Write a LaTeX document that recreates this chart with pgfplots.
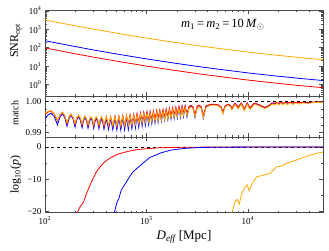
\documentclass[border=0pt]{standalone}
\usepackage{fontspec}
\setmainfont{Liberation Serif}
\usepackage{pgfplots}
\pgfplotsset{compat=1.18}
\usepackage{pgfplotstable}
\definecolor{myorange}{RGB}{255,168,0}
\definecolor{framegray}{RGB}{75,75,75}

% x = log10(D_eff / Mpc)
\pgfplotstableread{
x o b r
2.00 3236 240 98
2.25 1750 130 52.8
2.50 975 72 29.4
2.75 562 41.7 17.0
3.00 335 24.8 10.1
3.25 206 15.3 6.2
3.50 131 9.7 3.95
3.75 86 6.4 2.6
4.00 58 4.3 1.76
4.25 41 3.03 1.24
4.50 29.6 2.19 0.89
4.739 22.4 1.66 0.68
}\snrtable

\pgfplotstableread{
x r b o
2.000 .9958 .9945 .9962
2.030 .9966 .9956 .9968
2.059 .9969 .9962 .9970
2.091 .9959 .9951 .9961
2.123 .9937 .9925 .9940
2.148 .9957 .9950 .9957
2.172 .9965 .9960 .9964
2.195 .9954 .9948 .9954
2.217 .9928 .9920 .9932
2.237 .9950 .9945 .9950
2.256 .9959 .9955 .9958
2.276 .9949 .9944 .9949
2.296 .9925 .9917 .9929
2.313 .9946 .9941 .9947
2.330 .9955 .9951 .9955
2.348 .9945 .9940 .9947
2.365 .9923 .9915 .9927
2.380 .9943 .9938 .9944
2.394 .9952 .9948 .9952
2.409 .9943 .9938 .9944
2.424 .9922 .9914 .9926
2.439 .9942 .9936 .9943
2.453 .9950 .9946 .9950
2.467 .9941 .9936 .9943
2.480 .9921 .9913 .9925
2.493 .9941 .9935 .9943
2.505 .9950 .9945 .9950
2.519 .9941 .9935 .9942
2.532 .9920 .9912 .9924
2.545 .9941 .9934 .9942
2.557 .9950 .9944 .9950
2.569 .9941 .9934 .9942
2.581 .9920 .9911 .9924
2.604 .9951 .9945 .9951
2.626 .9920 .9910 .9923
2.647 .9951 .9946 .9951
2.668 .9921 .9909 .9922
2.689 .9952 .9947 .9951
2.708 .9921 .9908 .9921
2.728 .9953 .9948 .9952
2.747 .9922 .9908 .9921
2.766 .9954 .9949 .9952
2.784 .9923 .9909 .9922
2.803 .9955 .9950 .9953
2.821 .9925 .9910 .9923
2.838 .9957 .9952 .9954
2.856 .9927 .9912 .9924
2.874 .9959 .9954 .9955
2.891 .9930 .9915 .9926
2.907 .9961 .9956 .9956
2.924 .9932 .9917 .9928
2.941 .9963 .9958 .9958
2.957 .9935 .9920 .9930
2.973 .9965 .9960 .9960
2.989 .9938 .9923 .9933
3.005 .9967 .9962 .9961
3.021 .9939 .9925 .9934
3.036 .9968 .9963 .9962
3.052 .9941 .9928 .9935
3.068 .9969 .9964 .9963
3.084 .9943 .9931 .9936
3.100 .9971 .9966 .9964
3.115 .9945 .9933 .9937
3.131 .9972 .9967 .9966
3.147 .9947 .9936 .9939
3.163 .9974 .9969 .9967
3.178 .9949 .9939 .9941
3.194 .9976 .9971 .9969
3.210 .9951 .9941 .9943
3.226 .9978 .9973 .9971
3.241 .9954 .9943 .9946
3.257 .9980 .9975 .9973
3.273 .9956 .9945 .9948
3.289 .9982 .9977 .9975
3.304 .9958 .9947 .9951
3.320 .9984 .9980 .9977
3.335 .9961 .9949 .9953
3.350 .9985 .9982 .9979
3.364 .9963 .9951 .9955
3.381 .9986 .9983 .9980
3.399 .9960 .9950 .9953
3.419 .9984 .9981 .9978
3.438 .9987 .9985 .9982
3.458 .9983 .9980 .9977
3.478 .9958 .9948 .9950
3.498 .9984 .9981 .9978
3.517 .9988 .9986 .9983
3.540 .9983 .9980 .9977
3.560 .9955 .9946 .9948
3.586 .9985 .9983 .9980
3.626 .9990 .9989 .9987
3.665 .9991 .9990 .9988
3.704 .9989 .9988 .9986
3.734 .9983 .9981 .9979
3.754 .9966 .9962 .9960
3.773 .9985 .9983 .9981
3.803 .9991 .9990 .9988
3.828 .9987 .9986 .9983
3.842 .9977 .9975 .9972
3.872 .9994 .9993 .9990
3.904 .9982 .9980 .9976
3.934 .9995 .9994 .9991
3.964 .9976 .9974 .9970
3.992 .9995 .9994 .9991
4.020 .9979 .9977 .9973
4.059 .9994 .9993 .9990
4.099 .9991 .9990 .9987
4.128 .9986 .9985 .9982
4.167 .9981 .9980 .9977
4.207 .9987 .9986 .9983
4.236 .9995 .9994 .9991
4.266 .9994 .9993 .9988
4.286 .9997 .9996 .9995
4.305 .9994 .9993 .9988
4.325 .9997 .9996 .9995
4.345 .9994 .9993 .9989
4.364 .9997 .9996 .9995
4.389 .9995 .9994 .9989
4.414 .9997 .9996 .9995
4.443 .9995 .9994 .9990
4.473 .9997 .9996 .9995
4.502 .9996 .9995 .9991
4.542 .9997 .9997 .9995
4.591 .9997 .9996 .9993
4.640 .9998 .9997 .9996
4.690 .9998 .9997 .9996
4.739 .9998 .9998 .9997
}\matchtable

\pgfplotstableread{
x y
2.312 -21.0
2.318 -20.3
2.345 -18.5
2.377 -17.2
2.404 -14.8
2.443 -11.8
2.473 -9.8
2.509 -7.5
2.542 -6.2
2.574 -5.0
2.640 -3.4
2.719 -2.2
2.805 -1.45
2.887 -0.9
2.965 -0.6
3.133 -0.22
3.330 -0.08
3.626 -0.02
4.020 -0.005
4.739 0
}\redp

\pgfplotstableread{
x y
2.678 -21.0
2.683 -20.3
2.706 -17.4
2.729 -15.8
2.749 -13.5
2.771 -12.3
2.808 -10.5
2.837 -9.0
2.870 -7.6
2.906 -6.6
2.936 -5.8
2.968 -4.9
3.034 -3.2
3.100 -2.4
3.133 -1.9
3.232 -1.0
3.360 -0.45
3.527 -0.15
3.724 -0.05
4.120 -0.01
4.739 0
}\bluep

\pgfplotstableread{
x y
3.833 -21.0
3.839 -20.5
3.872 -16.9
3.895 -16.2
3.914 -17.7
3.938 -14.3
3.970 -12.3
3.993 -11.7
4.010 -13.5
4.052 -10.7
4.086 -9.2
4.151 -8.7
4.217 -8.2
4.283 -6.1
4.332 -5.9
4.381 -5.0
4.446 -4.4
4.512 -3.6
4.591 -2.7
4.677 -1.95
4.739 -1.6
}\orangep

\pgfplotsset{
  panel/.style={
    scale only axis, width=278pt,
    xmin=2, xmax=4.739,
    axis line style={framegray, line width=0.6pt},
    every tick/.style={framegray, line width=0.5pt},
    tick align=inside,
    major tick length=4pt, minor tick length=2pt,
    xtick={2,3,4},
    minor xtick={2.301,2.477,2.602,2.699,2.778,2.845,2.903,2.954,3.301,3.477,3.602,3.699,3.778,3.845,3.903,3.954,4.301,4.477,4.602,4.699},
    xticklabels={},
    tick label style={font=\fontsize{9}{10}\selectfont},
    label style={font=\fontsize{12}{13}\selectfont},
  },
}

\begin{document}
\begin{tikzpicture}
\path[use as bounding box] (0,0) rectangle (329pt,251pt);

% top panel: SNR
\begin{axis}[panel, at={(45pt,155pt)}, anchor=south west, height=86pt,
  ymode=log, ymin=0.24, ymax=11200,
  ytick={1,10,100,1000,10000},
  yticklabels={10\textsuperscript{0},10\textsuperscript{1},10\textsuperscript{2},10\textsuperscript{3},10\textsuperscript{4}},
  minor ytick={0.3,0.4,0.5,0.6,0.7,0.8,0.9,2,3,4,5,6,7,8,9,20,30,40,50,60,70,80,90,200,300,400,500,600,700,800,900,2000,3000,4000,5000,6000,7000,8000,9000},
  ylabel={SNR\textsubscript{opt}},
  ylabel style={at={(axis description cs:-0.105,0.64)}, anchor=center},
]
\addplot[myorange, line width=0.8pt] table[x=x, y=o] {\snrtable};
\addplot[blue, line width=0.8pt] table[x=x, y=b] {\snrtable};
\addplot[red, line width=0.8pt] table[x=x, y=r] {\snrtable};
\node[font=\fontsize{12.5}{14}\selectfont] at (rel axis cs:0.64,0.826)
  {\textit{m}\textsubscript{1}\,=\,\textit{m}\textsubscript{2}\,=\,10\,\textit{M}\textsubscript{$\odot$}};
\end{axis}

% middle panel: match
\begin{axis}[panel, at={(45pt,114pt)}, anchor=south west, height=41pt,
  ymin=0.9886, ymax=1.0017,
  ytick={0.99,1.00}, yticklabels={0.99,1.00},
  minor ytick={0.9925,0.995,0.9975},
  ylabel={match},
  ylabel style={at={(axis description cs:-0.108,0.58)}, anchor=center, font=\fontsize{10}{11}\selectfont},
]
\addplot[black, dashed, line width=0.6pt] coordinates {(2,1) (4.739,1)};
\addplot[blue, line width=0.8pt] table[x=x, y=b] {\matchtable};
\addplot[red, line width=0.8pt] table[x=x, y=r] {\matchtable};
\addplot[myorange, line width=0.8pt] table[x=x, y=o] {\matchtable};
\end{axis}

% bottom panel: log10 p
\begin{axis}[panel, at={(45pt,38.3pt)}, anchor=south west, height=75.7pt,
  ymin=-20.3, ymax=3.1,
  ytick={-20,-10,0}, yticklabels={−20,−10,0},
  minor ytick={-15,-5},
  xticklabels={10\textsuperscript{2},10\textsuperscript{3},10\textsuperscript{4}},
  ylabel={log\textsubscript{10}(\textit{p})},
  ylabel style={at={(axis description cs:-0.105,0.5)}, anchor=center},
  xlabel={\textit{D}\textsubscript{\textit{eff}}\,[Mpc]},
  xlabel style={at={(axis description cs:0.5,-0.321)}, anchor=center, font=\fontsize{13}{15}\selectfont},
]
\addplot[black, dashed, line width=0.6pt] coordinates {(2,0) (4.739,0)};
\addplot[red, line width=0.8pt] table[x=x, y=y] {\redp};
\addplot[blue, line width=0.8pt] table[x=x, y=y] {\bluep};
\addplot[myorange, line width=0.8pt] table[x=x, y=y] {\orangep};
\end{axis}
\end{tikzpicture}
\end{document}
